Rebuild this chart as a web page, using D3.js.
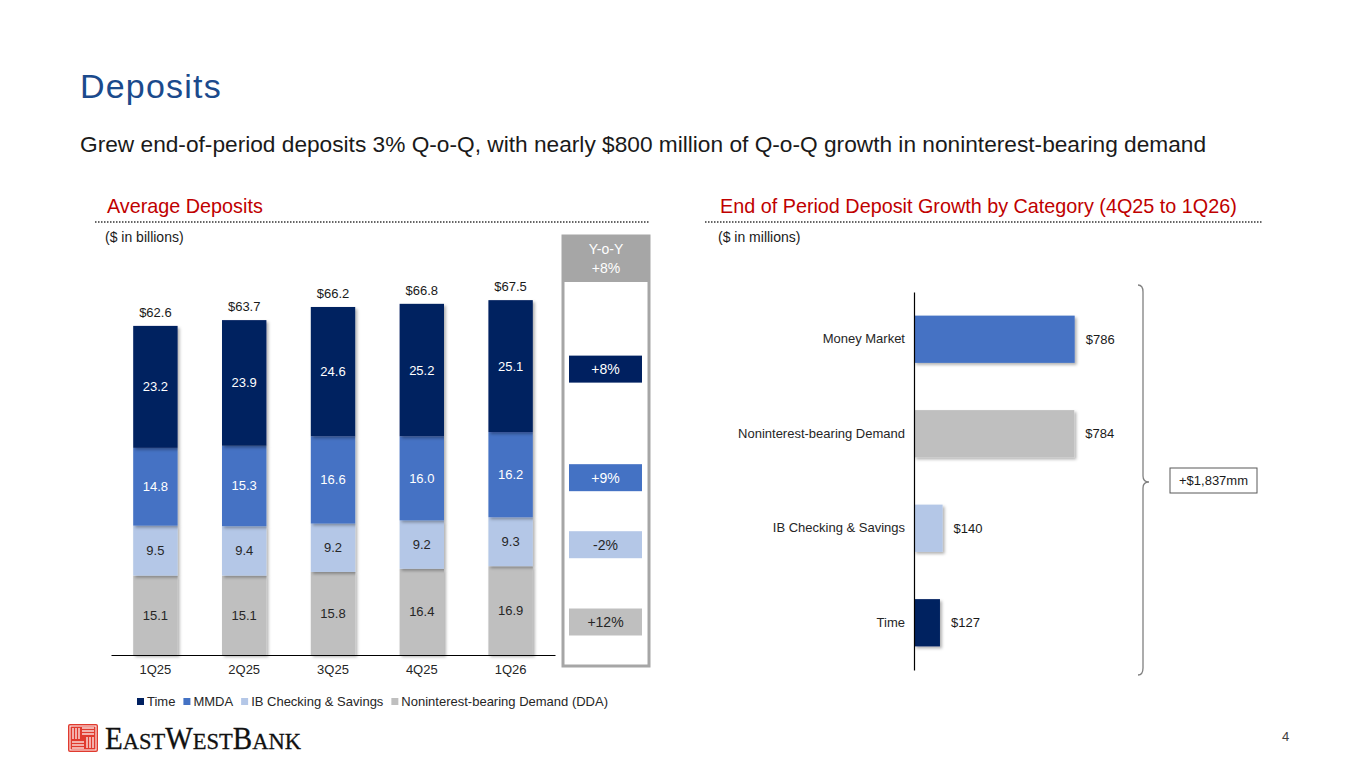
<!DOCTYPE html>
<html>
<head>
<meta charset="utf-8">
<script src="https://cdn.jsdelivr.net/npm/d3@7"></script>
<style>
  html, body { margin: 0; padding: 0; background: #fff; }
  svg { display: block; font-family: "Liberation Sans", Arial, sans-serif; }
</style>
</head>
<body>
<div id="chart"></div>
<script>
// average deposits, $ in billions
const quarters = ['1Q25', '2Q25', '3Q25', '4Q25', '1Q26'];
const ddaValues = [15.1, 15.1, 15.8, 16.4, 16.9];
const ibValues = [9.5, 9.4, 9.2, 9.2, 9.3];
const mmdaValues = [14.8, 15.3, 16.6, 16.0, 16.2];
const timeValues = [23.2, 23.9, 24.6, 25.2, 25.1];
const totals = [62.6, 63.7, 66.2, 66.8, 67.5];
const seriesNames = ['Noninterest-bearing Demand (DDA)', 'IB Checking & Savings', 'MMDA', 'Time'];
const yoyLabels = ['+12%', '-2%', '+9%', '+8%'];
const yoyTotal = '+8%';

// end of period growth, $ in millions
const growthCategories = ['Money Market', 'Noninterest-bearing Demand', 'IB Checking & Savings', 'Time'];
const growthValues = [786, 784, 140, 127];
const growthTotal = '+$1,837mm';

const colors = {
  'Time': '#002060',
  'MMDA': '#4472C4',
  'IB Checking & Savings': '#B4C7E7',
  'Noninterest-bearing Demand (DDA)': '#BFBFBF'
};
const growthColors = ['#4472C4', '#BFBFBF', '#B4C7E7', '#002060'];

const W = 1365, H = 768;
const svg = d3.select('#chart').append('svg')
  .attr('width', W)
  .attr('height', H);

const defs = svg.append('defs');
defs.append('filter')
  .attr('id', 'shadow')
  .attr('x', '-20%').attr('y', '-20%').attr('width', '140%').attr('height', '140%')
  .append('feDropShadow')
  .attr('dx', 2).attr('dy', 2)
  .attr('stdDeviation', 1.5)
  .attr('flood-color', '#000')
  .attr('flood-opacity', 0.3);

// page title + subtitle
svg.append('text')
  .attr('x', 80).attr('y', 98)
  .attr('font-size', 34)
  .attr('letter-spacing', 1.2)
  .attr('fill', '#1B4A8C')
  .text('Deposits');

svg.append('text')
  .attr('x', 80).attr('y', 152)
  .attr('font-size', 22.7)
  .attr('fill', '#1a1a1a')
  .text('Grew end-of-period deposits 3% Q-o-Q, with nearly $800 million of Q-o-Q growth in noninterest-bearing demand');

// section headers
function sectionHeader(x, lineX0, lineX1, label, unit) {
  svg.append('text')
    .attr('x', x).attr('y', 213)
    .attr('font-size', 19.8)
    .attr('fill', '#C00000')
    .text(label);
  svg.append('line')
    .attr('x1', lineX0).attr('x2', lineX1)
    .attr('y1', 222).attr('y2', 222)
    .attr('stroke', '#666')
    .attr('stroke-width', 2)
    .attr('stroke-dasharray', '1.5,1.5');
  svg.append('text')
    .attr('x', x - 2).attr('y', 242)
    .attr('font-size', 14)
    .attr('fill', '#1a1a1a')
    .text(unit);
}
sectionHeader(107, 95, 650, 'Average Deposits', '($ in billions)');
sectionHeader(720, 705, 1262, 'End of Period Deposit Growth by Category (4Q25 to 1Q26)', '($ in millions)');

// ---------- left: stacked bars ----------
const rows = quarters.map((q, i) => ({
  quarter: q,
  'Noninterest-bearing Demand (DDA)': ddaValues[i],
  'IB Checking & Savings': ibValues[i],
  'MMDA': mmdaValues[i],
  'Time': timeValues[i],
  total: totals[i]
}));

const x = d3.scaleBand()
  .domain(quarters)
  .range([111, 555])
  .paddingInner(0.5)
  .paddingOuter(0.25);

const y = d3.scaleLinear()
  .domain([0, 70])
  .range([655, 287]);

const stack = d3.stack().keys(seriesNames);
const stacked = stack(rows);

const gBars = svg.append('g');
const layers = gBars.selectAll('g.layer')
  .data(stacked)
  .enter().append('g')
  .attr('class', 'layer')
  .attr('fill', d => colors[d.key]);

layers.selectAll('rect')
  .data(d => d)
  .enter().append('rect')
  .attr('x', d => x(d.data.quarter))
  .attr('y', d => y(d[1]))
  .attr('width', x.bandwidth())
  .attr('height', d => y(d[0]) - y(d[1]))
  .attr('filter', 'url(#shadow)');

layers.selectAll('text')
  .data(d => d.map(v => Object.assign({ key: d.key }, v)))
  .enter().append('text')
  .attr('x', d => x(d.data.quarter) + x.bandwidth() / 2)
  .attr('y', d => y((d[0] + d[1]) / 2) + 4.5)
  .attr('text-anchor', 'middle')
  .attr('font-size', 13)
  .attr('fill', d => (d.key === 'Time' || d.key === 'MMDA') ? '#fff' : '#262626')
  .text(d => d.data[d.key].toFixed(1));

gBars.selectAll('text.total')
  .data(rows)
  .enter().append('text')
  .attr('class', 'total')
  .attr('x', d => x(d.quarter) + x.bandwidth() / 2)
  .attr('y', d => y(d.total) - 9)
  .attr('text-anchor', 'middle')
  .attr('font-size', 13)
  .attr('fill', '#1a1a1a')
  .text(d => '$' + d.total.toFixed(1));

const xAxis = svg.append('g')
  .attr('transform', 'translate(0,655)')
  .call(d3.axisBottom(x).tickSize(0).tickPadding(10).tickSizeOuter(0));
xAxis.select('.domain').attr('stroke', '#000').attr('stroke-width', 1.2);
xAxis.selectAll('text')
  .attr('font-size', 13)
  .attr('font-family', '"Liberation Sans", Arial, sans-serif')
  .attr('fill', '#262626');

// legend, laid out left to right from measured text widths
const legendItems = ['Time', 'MMDA', 'IB Checking & Savings', 'Noninterest-bearing Demand (DDA)'];
const gLegend = svg.append('g');
let lx = 137;
legendItems.forEach(name => {
  gLegend.append('rect')
    .attr('x', lx).attr('y', 698)
    .attr('width', 7).attr('height', 7)
    .attr('fill', colors[name]);
  const t = gLegend.append('text')
    .attr('x', lx + 10).attr('y', 706)
    .attr('font-size', 13)
    .attr('fill', '#262626')
    .text(name);
  lx += 10 + t.node().getComputedTextLength() + 8;
});

// Y-o-Y box
const last = stacked.map(s => s[s.length - 1]);
const gYoy = svg.append('g');
gYoy.append('rect')
  .attr('x', 563).attr('y', 236)
  .attr('width', 86).attr('height', 430)
  .attr('fill', '#fff')
  .attr('stroke', '#A6A6A6')
  .attr('stroke-width', 3);
gYoy.append('rect')
  .attr('x', 563).attr('y', 236)
  .attr('width', 86).attr('height', 46)
  .attr('fill', '#A6A6A6');
gYoy.append('text')
  .attr('x', 606).attr('y', 254)
  .attr('text-anchor', 'middle')
  .attr('font-size', 14)
  .attr('fill', '#fff')
  .text('Y-o-Y');
gYoy.append('text')
  .attr('x', 606).attr('y', 273)
  .attr('text-anchor', 'middle')
  .attr('font-size', 14)
  .attr('fill', '#fff')
  .text(yoyTotal);

// chips sit beside the matching 1Q26 segment; the bottom one is lifted off the box edge
last.forEach((d, i) => {
  const key = seriesNames[i];
  const cy = d[0] === 0 ? y(0) - 33 : y((d[0] + d[1]) / 2) + 3;
  gYoy.append('rect')
    .attr('x', 569).attr('y', cy - 13.5)
    .attr('width', 73).attr('height', 27)
    .attr('fill', colors[key]);
  gYoy.append('text')
    .attr('x', 605.5).attr('y', cy + 5)
    .attr('text-anchor', 'middle')
    .attr('font-size', 14)
    .attr('fill', (key === 'Time' || key === 'MMDA') ? '#fff' : '#262626')
    .text(yoyLabels[i]);
});

// ---------- right: horizontal bars ----------
const yb = d3.scaleBand()
  .domain(growthCategories)
  .range([292, 670])
  .paddingInner(0.5)
  .paddingOuter(0.25);

const xb = d3.scaleLinear()
  .domain([0, 900])
  .range([914, 1098]);

const growth = growthCategories.map((c, i) => ({ cat: c, value: growthValues[i], color: growthColors[i] }));

const gH = svg.append('g');
gH.selectAll('rect')
  .data(growth)
  .enter().append('rect')
  .attr('x', xb(0))
  .attr('y', d => yb(d.cat))
  .attr('width', d => xb(d.value) - xb(0))
  .attr('height', yb.bandwidth())
  .attr('fill', d => d.color)
  .attr('filter', 'url(#shadow)');

gH.selectAll('text.val')
  .data(growth)
  .enter().append('text')
  .attr('class', 'val')
  .attr('x', d => xb(d.value) + 11)
  .attr('y', d => yb(d.cat) + yb.bandwidth() / 2 + 4.5)
  .attr('font-size', 13)
  .attr('fill', '#1a1a1a')
  .text(d => '$' + d.value);

const yAxis = svg.append('g')
  .attr('transform', `translate(${xb(0)},0)`)
  .call(d3.axisLeft(yb).tickSize(0).tickPadding(9).tickSizeOuter(0));
yAxis.select('.domain').attr('stroke', '#000').attr('stroke-width', 1.2);
yAxis.selectAll('text')
  .attr('font-size', 13)
  .attr('font-family', '"Liberation Sans", Arial, sans-serif')
  .attr('fill', '#262626');

// brace + total box
const bTop = 285, bBot = 675, bMid = (bTop + bBot) / 2 + 2, bx = 1143;
svg.append('path')
  .attr('d', `M${bx - 5},${bTop} Q${bx},${bTop} ${bx},${bTop + 7} L${bx},${bMid - 6} Q${bx},${bMid} ${bx + 6},${bMid} Q${bx},${bMid} ${bx},${bMid + 6} L${bx},${bBot - 7} Q${bx},${bBot} ${bx - 5},${bBot}`)
  .attr('fill', 'none')
  .attr('stroke', '#808080')
  .attr('stroke-width', 1.3);

svg.append('rect')
  .attr('x', 1170).attr('y', 468)
  .attr('width', 87).attr('height', 25)
  .attr('fill', '#fff')
  .attr('stroke', '#595959')
  .attr('stroke-width', 1);
svg.append('text')
  .attr('x', 1213.5).attr('y', 485)
  .attr('text-anchor', 'middle')
  .attr('font-size', 13)
  .attr('fill', '#1a1a1a')
  .text(growthTotal);

// ---------- footer ----------
const logo = svg.append('g').attr('transform', 'translate(68,724)');
logo.append('rect')
  .attr('width', 30).attr('height', 28)
  .attr('rx', 2)
  .attr('fill', '#E03A2E');
logo.append('rect')
  .attr('x', 2).attr('y', 2)
  .attr('width', 26).attr('height', 24)
  .attr('fill', 'none')
  .attr('stroke', '#fff')
  .attr('stroke-width', 1);
// pinwheel stripes
[5, 8, 11].forEach(v => {
  logo.append('line').attr('x1', v).attr('x2', v).attr('y1', 4).attr('y2', 15)
    .attr('stroke', '#fff').attr('stroke-width', 1.2);
  logo.append('line').attr('x1', 30 - v).attr('x2', 30 - v).attr('y1', 13).attr('y2', 24)
    .attr('stroke', '#fff').attr('stroke-width', 1.2);
  logo.append('line').attr('x1', 14).attr('x2', 26).attr('y1', v - 1).attr('y2', v - 1)
    .attr('stroke', '#fff').attr('stroke-width', 1.2);
  logo.append('line').attr('x1', 4).attr('x2', 16).attr('y1', 29 - v).attr('y2', 29 - v)
    .attr('stroke', '#fff').attr('stroke-width', 1.2);
});

const brand = svg.append('text')
  .attr('x', 105).attr('y', 749)
  .attr('font-family', '"Liberation Serif", "DejaVu Serif", serif')
  .attr('fill', '#111')
  .attr('stroke', '#111')
  .attr('stroke-width', 0.3)
  .attr('textLength', 196)
  .attr('lengthAdjust', 'spacingAndGlyphs');
[['E', 31], ['AST', 24], ['W', 31], ['EST', 24], ['B', 31], ['ANK', 24]].forEach(p => {
  brand.append('tspan').attr('font-size', p[1]).text(p[0]);
});

svg.append('text')
  .attr('x', 1282).attr('y', 741)
  .attr('font-size', 13)
  .attr('fill', '#404040')
  .text('4');
</script>
</body>
</html>
